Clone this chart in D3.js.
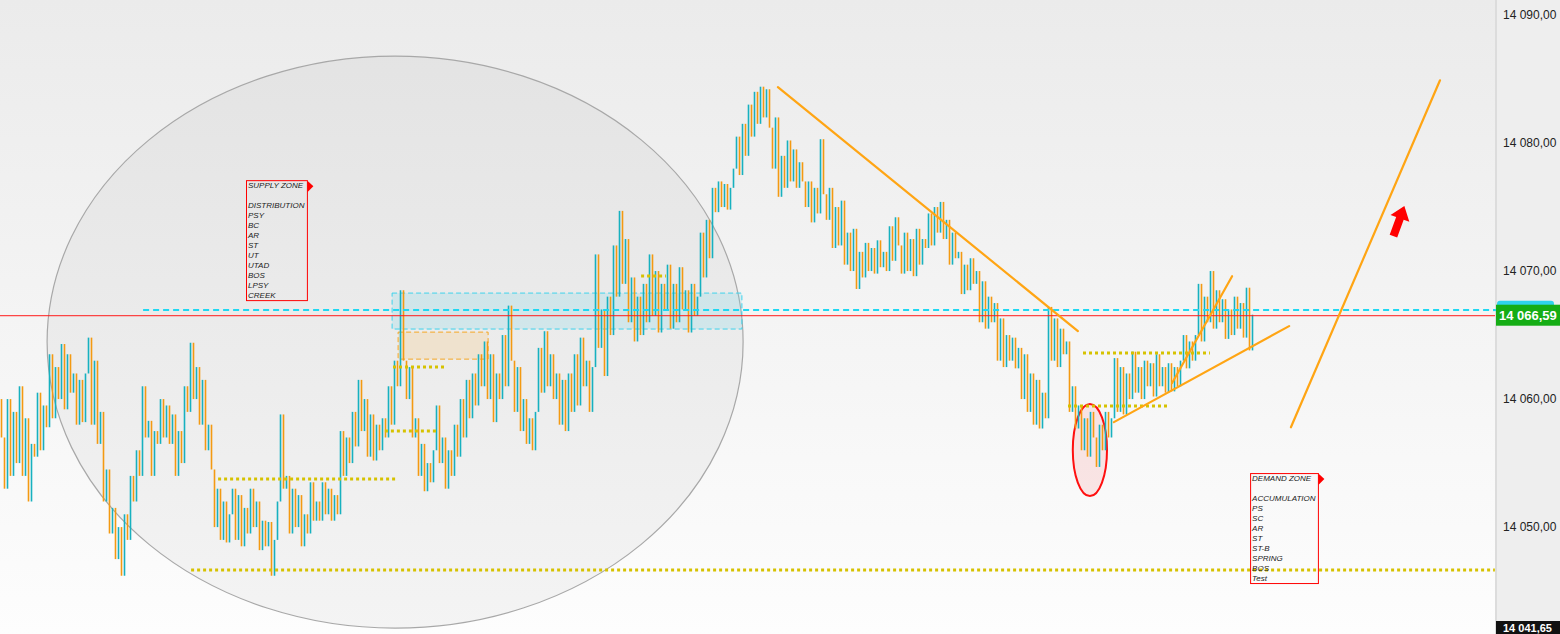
<!DOCTYPE html>
<html><head><meta charset="utf-8">
<script src="https://cdn.jsdelivr.net/npm/d3@7/dist/d3.min.js"></script>
<style>html,body{margin:0;padding:0;background:#fff;overflow:hidden}svg{display:block}</style>
</head><body>
<svg id="c" width="1560" height="634"></svg>
<script>
// ---- DATA ----
const firstOpen = 14060;
const closes = [
14057,14053,14060,14054,14059,14055,14061,14054,14058.5,14052,14056.5,
14055.5,14060.5,14056,14059.5,14057.8,14063.5,14058.5,14062.5,14060,
14064.3,14059.2,14063.5,14060.5,14062,14058,14061.5,14058.2,14062,
14064.8,14058,14063,14056.5,14059,14052,14054.5,
14049.5,14051.5,14047.5,14050,14046.2,14051,14049,14054,14052,14056,14054,
14061,14057,14058.3,14054,14057.5,14056.5,14060,14057,14059.5,14056.5,
14058.8,14054,14057.5,14055,14061,14059,14064.4,14060,14062.5,
14058,14061.5,14056,14058,14054.5,14050,14053,14049,14052,14048.8,14051,
14053,14049,14052.5,14048.5,14051.5,14049.5,14053,14050,14052,14048.2,14050.5,14048.5,
14050.4,14046.2,14049,14052,14058.8,14053,
14054,14049.5,14053,14050,14052.5,14048.5,14051,14049.5,14053.5,14050.5,14052,
14050.5,14053.5,14051,14053,14050.5,14052.5,14051,
14057.5,14054,14057,14055,14059,14056.3,14061.5,14057.5,14060,
14055.5,14058.8,14055.2,14058,14056,14058.5,14057,
14061,14058,14063,14061,14068.5,14063,14060,
14062.5,14057,14058.5,14054,14056.5,14052.8,14055,14053.5,14056,
14059.5,14055,14057,14053,14056,14054,
14058,14055.5,14060,14057,14061.5,14058.5,14062,14059.5,14063.5,14061,14064.5,
14060,14063.5,14058.2,14062,14060,14065,14061,14067.3,14063,
14059,14062.5,14057.5,14060,14056.5,14058.5,14056,14059,
14064,14060.5,14065.3,14061,14063.5,14060,14062,
14058,14061.5,14057.5,14062,14059,
14063.5,14059.5,14064.8,14061,14063,14059,14062.5,
14071.3,14064,14067,14061.8,14068,14065,
14072,14068,14074.7,14069,14072.5,
14066,14069.5,14064.5,14068,14065,14069,14066,
14071.3,14066.5,14070,14065.2,14069,14067,14070.5,
14065.5,14069,14066,14070.3,14067,14068.5,14065.2,14069,14066.5,14068,
14073,14069.5,14074,14071,
14076.5,14074.6,14077,14075,14076.8,14074.8,14076.5,
14078,14080.5,14077.5,14081.5,14079,14083,14080.5,14084,
14081.5,14084.4,14082,14084.2,14081.2,
14078,14082,14075.8,
14079,14076.5,14080.2,14077,14079.5,14076.5,14078.5,14077,
14075,14077,14073.8,14076.5,14074.5,14080.3,14076,
14074,14076.5,14071.8,14075,14072,14075.5,14070.5,14073,
14070,14073.3,14068.6,14071.5,14069.5,
14072.2,14070,14071.8,14069.8,14072.4,14070.3,14071.5,14070,
14073.5,14070.8,14074.2,14072,
14069.8,14073,14070,14072.5,14069.6,14073.3,14070.5,14072.5,
14071.8,14074.5,14072,14075,14073,14075.4,14072.5,
14074,14070.5,14073,14071,
14071.5,14068.2,14070.5,14068.5,14071,14069,14070,
14066,14069.2,14065.5,14068,14066,14067.5,
14063,14066.3,14062.5,14065,14063,14064.8,14062.4,14064,
14060,14063.5,14059,14062,14058,14061.5,14057.7,14060.5,14058.5,
14067.2,
14063,14066.3,14062.5,14065.5,14063.5,14064.5,
14059,14061,14057.7,
14059.5,14056,14058.5,14055.5,14059,14057,14054.7,14058,14056,14059,14057,14058.5,
14063.2,14059,14062.5,14058.8,
14062,14060,14063.7,14060.5,14062.5,14060,14063,14061,14062.8,14060.2,14063.5,14061,14062.5,14060.5,
14062.8,14060.6,14062.5,14061,14063,
14065,14062.4,14064.5,14063,14065,
14069,14064.5,14068,14066,14070,14065.5,14068.5,14066,
14067.8,14064.7,14067,14065,14068,14065.5,14067.5,14064.8,
14068.7,14063.8,14066.59
];
const yTicks = [14050, 14060, 14070, 14080, 14090];
const lastPrice = 14066.59;
const bottomPrice = 14041.65;
const cyanLevel = 14066.95;
// annotations in data space: [index, price]
const trendLines = [
  [[258.8, 14084.37], [358.8, 14065.31]],
  [[370.8, 14058.2], [429.2, 14065.7]],
  [[390.2, 14061.25], [410.2, 14069.6]],
  [[429.8, 14057.8], [479.5, 14084.9]]
];
const dottedLevels = [ // [price, fromIdx, toIdx]
  [14062.5, 130.5, 148.5],
  [14057.5, 127.8, 145.2],
  [14053.75, 72.2, 131.5],
  [14046.64, 63.2, 497.8],
  [14069.61, 213.2, 221.5],
  [14063.59, 360.5, 402.8],
  [14059.45, 355.5, 388.5]
];
const cyanZone = {x0: 130.2, x1: 246.8, p0: 14068.28, p1: 14065.47};
const orangeZone = {x0: 132.2, x1: 162.2, p0: 14065.23, p1: 14063.12};
const bigEllipse = {cx: 131.2, cp: 14064.45, rIdx: 116, rPts: 22.34};
const redEllipse = {cx: 362.8, cp: 14056.02, rIdx: 5.7, rPts: 3.6};
const supplyLabels = ["SUPPLY ZONE","","DISTRIBUTION","PSY","BC","AR","ST","UT","UTAD","BOS","LPSY","CREEK"];
const demandLabels = ["DEMAND ZONE","","ACCUMULATION","PS","SC","AR","ST","ST-B","SPRING","BOS","Test"];
const supplyBox = {x0: 81.5, x1: 101.8, p0: 14077.1, p1: 14067.73};
const demandBox = {x0: 416.2, x1: 438.8, p0: 14054.22, p1: 14045.63};
const arrowAt = [465.8, 14073.9];

// ---- CHART ----
const W = 1560, H = 634, plotR = 1495;
const svg = d3.select("#c");
const x = d3.scaleLinear().domain([0, 1]).range([1.5, 4.5]);
const y = d3.scaleLinear().domain([bottomPrice, 14090 + 15/12.8]).range([H, 0]);
const xs = i => x(i);

const defs = svg.append("defs");
const g1 = defs.append("linearGradient").attr("id","bg").attr("x1",0).attr("y1",0).attr("x2",0).attr("y2",1);
g1.append("stop").attr("offset","0%").attr("stop-color","#ebebeb");
g1.append("stop").attr("offset","100%").attr("stop-color","#fdfdfd");
svg.append("rect").attr("width",plotR).attr("height",H).attr("fill","url(#bg)");

// big ellipse
svg.append("ellipse")
  .attr("cx", xs(bigEllipse.cx)).attr("cy", y(bigEllipse.cp))
  .attr("rx", xs(bigEllipse.cx + bigEllipse.rIdx) - xs(bigEllipse.cx))
  .attr("ry", y(bigEllipse.cp - bigEllipse.rPts) - y(bigEllipse.cp))
  .attr("fill","rgba(0,0,0,0.035)").attr("stroke","#a8a8a8").attr("stroke-width",1.2);

// zones
svg.append("rect").attr("x",xs(cyanZone.x0)).attr("y",y(cyanZone.p0))
  .attr("width",xs(cyanZone.x1)-xs(cyanZone.x0)).attr("height",y(cyanZone.p1)-y(cyanZone.p0))
  .attr("fill","rgba(120,215,230,0.22)").attr("stroke","#3fd3ec").attr("stroke-width",1).attr("stroke-dasharray","5,3");
svg.append("rect").attr("x",xs(orangeZone.x0)).attr("y",y(orangeZone.p0))
  .attr("width",xs(orangeZone.x1)-xs(orangeZone.x0)).attr("height",y(orangeZone.p1)-y(orangeZone.p0))
  .attr("fill","rgba(245,215,170,0.45)").attr("stroke","#f5a623").attr("stroke-width",1).attr("stroke-dasharray","5,3");

// red ellipse
svg.append("ellipse")
  .attr("cx", xs(redEllipse.cx)).attr("cy", y(redEllipse.cp))
  .attr("rx", xs(redEllipse.cx + redEllipse.rIdx) - xs(redEllipse.cx))
  .attr("ry", y(redEllipse.cp - redEllipse.rPts) - y(redEllipse.cp))
  .attr("fill","rgba(255,80,80,0.12)").attr("stroke","#ff1010").attr("stroke-width",2);

// candles
const opens = closes.map((c,i) => i === 0 ? firstOpen : closes[i-1]);
svg.append("g").selectAll("rect").data(closes).join("rect")
  .attr("x",(d,i)=>xs(i)-0.8).attr("width",1.6)
  .attr("y",(d,i)=>y(Math.max(d,opens[i])))
  .attr("height",(d,i)=>Math.max(1, Math.abs(y(d)-y(opens[i]))))
  .attr("fill",(d,i)=> d >= opens[i] ? "#17b1bf" : "#f39a12");

// dotted levels
svg.append("g").selectAll("line").data(dottedLevels).join("line")
  .attr("x1",d=>xs(d[1])).attr("x2",d=>xs(d[2]))
  .attr("y1",d=>y(d[0])).attr("y2",d=>y(d[0]))
  .attr("stroke","#d6c200").attr("stroke-width",3).attr("stroke-dasharray","3,3");

// cyan dashed level
svg.append("line").attr("x1",xs(47.2)).attr("x2",plotR).attr("y1",y(cyanLevel)).attr("y2",y(cyanLevel))
  .attr("stroke","#1ed8f2").attr("stroke-width",2).attr("stroke-dasharray","6,4");
// red last price line
svg.append("line").attr("x1",0).attr("x2",plotR+2).attr("y1",y(lastPrice)+1).attr("y2",y(lastPrice)+1)
  .attr("stroke","#ff1a1a").attr("stroke-width",1);

// trend lines
svg.append("g").selectAll("line").data(trendLines).join("line")
  .attr("x1",d=>xs(d[0][0])).attr("y1",d=>y(d[0][1]))
  .attr("x2",d=>xs(d[1][0])).attr("y2",d=>y(d[1][1]))
  .attr("stroke","#ffa514").attr("stroke-width",2.2).attr("stroke-linecap","round");

// arrow
svg.append("path")
  .attr("transform",`translate(${xs(arrowAt[0])},${y(arrowAt[1])}) rotate(20)`)
  .attr("d","M0,-16 L10,-3 L4,-3 L4,16 L-4,16 L-4,-3 L-10,-3 Z")
  .attr("fill","#ff0000");

// label boxes
function zoneBox(b, labels){
  const gx = xs(b.x0), gy = y(b.p0), bw = xs(b.x1)-xs(b.x0), bh = y(b.p1)-y(b.p0);
  const g = svg.append("g");
  g.append("rect").attr("x",gx+0.5).attr("y",gy+0.5).attr("width",bw).attr("height",bh)
    .attr("fill","none").attr("stroke","#ff0000").attr("stroke-width",1);
  g.append("path").attr("d",`M${gx+bw+0.5},${gy+0.5} L${gx+bw+6.5},${gy+6} L${gx+bw+0.5},${gy+12} Z`).attr("fill","#ff0000");
  g.selectAll("text").data(labels).join("text")
    .attr("x",gx+2).attr("y",(d,i)=>gy+8+i*10)
    .attr("font-family","Liberation Sans, Arial, sans-serif").attr("font-size",8)
    .attr("font-style","italic").attr("fill","#222").text(d=>d);
}
zoneBox(supplyBox, supplyLabels);
zoneBox(demandBox, demandLabels);

// right axis panel
svg.append("rect").attr("x",plotR).attr("y",0).attr("width",W-plotR).attr("height",H).attr("fill","#eeeeee");
svg.append("rect").attr("x",plotR).attr("y",0).attr("width",2).attr("height",H).attr("fill","#dcdcdc");
const loc = d3.formatLocale({decimal:",", thousands:" ", grouping:[3], currency:["",""]});
const fmt = loc.format(",.2f");
const ax = svg.append("g").attr("transform",`translate(1501,0)`)
  .call(d3.axisRight(y).tickValues(yTicks).tickSize(0).tickPadding(2).tickFormat(fmt));
ax.select(".domain").remove();
ax.selectAll("text").attr("font-family","Liberation Sans, Arial, sans-serif").attr("font-size",12).attr("fill","#222");

// price tags
const ly = y(lastPrice);
svg.append("rect").attr("x",1497).attr("y",ly-14).attr("width",57).attr("height",10).attr("rx",3).attr("fill","#2fd3ec");
svg.append("line").attr("x1",1493).attr("x2",1497).attr("y1",y(cyanLevel)).attr("y2",y(cyanLevel)).attr("stroke","#1ed8f2").attr("stroke-width",2);
svg.append("rect").attr("x",1496).attr("y",ly-10).attr("width",64).attr("height",21).attr("fill","#15ad15");
svg.append("text").attr("x",1499).attr("y",ly+5).attr("font-family","Liberation Sans, Arial, sans-serif")
  .attr("font-size",13).attr("font-weight","bold").attr("fill","#fff").text(fmt(lastPrice));
svg.append("rect").attr("x",1496).attr("y",y(bottomPrice)-13).attr("width",64).attr("height",13).attr("fill","#111");
svg.append("text").attr("x",1503).attr("y",y(bottomPrice)-2).attr("font-family","Liberation Sans, Arial, sans-serif")
  .attr("font-size",11).attr("font-weight","bold").attr("fill","#fff").text(fmt(bottomPrice));
</script>
</body></html>
